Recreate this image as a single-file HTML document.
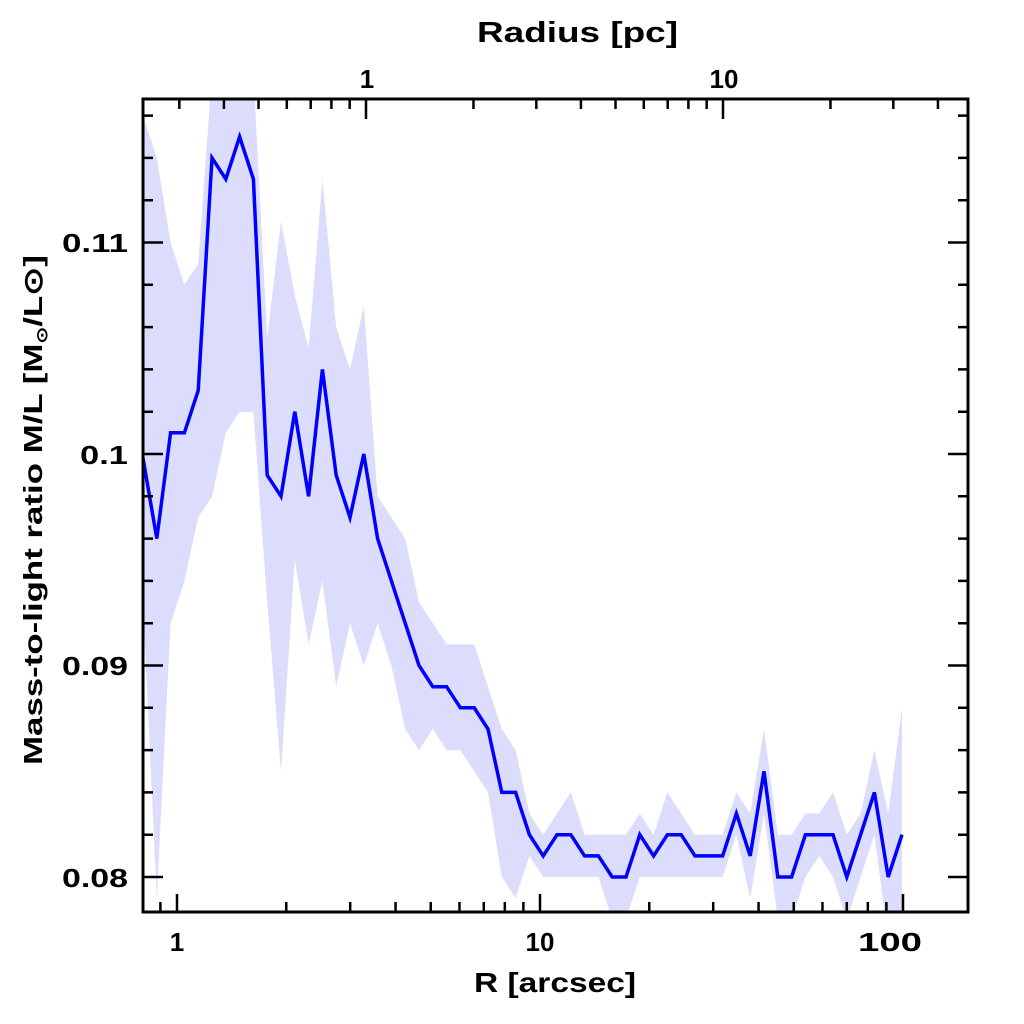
<!DOCTYPE html>
<html><head><meta charset="utf-8"><style>body{margin:0;background:#fff}svg{display:block}text{font-family:"Liberation Sans",sans-serif;font-weight:bold;fill:#000}</style></head>
<body>
<svg id="s" width="1024" height="1024" viewBox="0 0 1024 1024" xmlns="http://www.w3.org/2000/svg">
<defs><clipPath id="c"><rect x="143" y="99" width="825" height="813"/></clipPath></defs>
<g clip-path="url(#c)"><path id="band" fill="#dcdcfc" stroke="none"/><path id="line" fill="none" stroke="#0000ff" stroke-width="3.5" stroke-linejoin="miter"/></g>
<g id="ticks" stroke="#000" stroke-width="2.5"></g>
<rect x="143" y="99" width="825" height="813" fill="none" stroke="#000" stroke-width="3"/>
<text x="477" y="42" font-size="29" textLength="201" lengthAdjust="spacingAndGlyphs">Radius [pc]</text>
<text x="367" y="88" font-size="26" text-anchor="middle">1</text>
<text x="724" y="88" font-size="26" text-anchor="middle">10</text>
<text x="177" y="951" font-size="26" text-anchor="middle">1</text>
<text x="540" y="951" font-size="26" text-anchor="middle">10</text>
<text x="858" y="951" font-size="26" textLength="64" lengthAdjust="spacingAndGlyphs">100</text>
<text x="474" y="992" font-size="28" textLength="162" lengthAdjust="spacingAndGlyphs">R [arcsec]</text>
<text x="62" y="252" font-size="26" textLength="66" lengthAdjust="spacingAndGlyphs">0.11</text>
<text x="80" y="464" font-size="26" textLength="48" lengthAdjust="spacingAndGlyphs">0.1</text>
<text x="62" y="675" font-size="26" textLength="66" lengthAdjust="spacingAndGlyphs">0.09</text>
<text x="62" y="887" font-size="26" textLength="66" lengthAdjust="spacingAndGlyphs">0.08</text>
<text transform="translate(42,765) rotate(-90)" font-size="26" textLength="510" lengthAdjust="spacingAndGlyphs">Mass-to-light ratio M/L [M<tspan font-size="15" dy="5">⊙</tspan><tspan dy="-5">/L⊙]</tspan></text>
</svg>
<script>
var v=[0.0998,0.096,0.101,0.101,0.103,0.114,0.113,0.115,0.113,0.099,0.098,0.102,0.098,0.104,0.099,0.097,0.100,0.096,0.094,0.092,0.090,0.089,0.089,0.088,0.088,0.087,0.084,0.084,0.082,0.081,0.082,0.082,0.081,0.081,0.080,0.080,0.082,0.081,0.082,0.082,0.081,0.081,0.081,0.083,0.081,0.085,0.080,0.080,0.082,0.082,0.082,0.080,0.082,0.084,0.080,0.082];
var b=[[0.116,0.093],[0.114,0.079],[0.110,0.092],[0.108,0.094],[0.109,0.097],[0.118,0.098],[0.118,0.101],[0.118,0.102],[0.118,0.102],[0.1055,0.093],[0.111,0.085],[0.1075,0.095],[0.105,0.091],[0.113,0.094],[0.106,0.089],[0.104,0.092],[0.107,0.090],[0.098,0.092],[0.097,0.090],[0.096,0.087],[0.093,0.086],[0.092,0.087],[0.091,0.086],[0.091,0.086],[0.091,0.085],[0.089,0.084],[0.087,0.080],[0.086,0.079],[0.083,0.081],[0.082,0.080],[0.083,0.080],[0.084,0.080],[0.082,0.080],[0.082,0.080],[0.082,0.078],[0.082,0.078],[0.083,0.080],[0.082,0.080],[0.084,0.080],[0.083,0.080],[0.082,0.080],[0.082,0.080],[0.082,0.080],[0.084,0.082],[0.083,0.079],[0.087,0.083],[0.082,0.078],[0.082,0.078],[0.083,0.080],[0.083,0.081],[0.084,0.080],[0.082,0.078],[0.083,0.080],[0.086,0.082],[0.083,0.077],[0.088,0.077]];
function X(i){return 143+i*13.8}function Y(q){return 454-(q-0.1)*21150}
var d="",u="",l="";
for(var i=0;i<v.length;i++){d+=(i?"L":"M")+X(i).toFixed(1)+","+Y(v[i]).toFixed(1);u+=(i?"L":"M")+X(i).toFixed(1)+","+Y(b[i][0]).toFixed(1);}
for(var i=v.length-1;i>=0;i--){u+="L"+X(i).toFixed(1)+","+Y(b[i][1]).toFixed(1);}
document.getElementById("line").setAttribute("d",d);document.getElementById("band").setAttribute("d",u+"Z");
var t="";
function ln(a,b2,c,e){t+="M"+a+","+b2+"L"+c+","+e;}
for(var dec=-1;dec<=2;dec++)for(var k=1;k<10;k++){var x=177+363*(dec+Math.log10(k));if(x<=144||x>=967)continue;var L=k==1?18:10;ln(x,912,x,912-L);}
for(var dec=-1;dec<=1;dec++)for(var k=1;k<10;k++){var x=366+357*(dec+Math.log10(k));if(x<=144||x>=967)continue;var L=k==1?20:10;ln(x,99,x,99+L);}
for(var q=0.078;q<=0.118;q+=0.002){var y=Y(q);if(y<100||y>911)continue;var mj=Math.abs(q*100-Math.round(q*100))<0.01;var L=mj?20:10;ln(143,y,143+L,y);ln(968,y,968-L,y);}
var p=document.createElementNS("http://www.w3.org/2000/svg","path");p.setAttribute("d",t);document.getElementById("ticks").appendChild(p);
</script>
</body></html>
